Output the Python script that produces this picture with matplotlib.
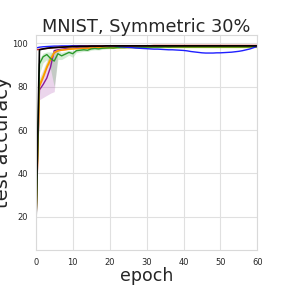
import matplotlib
matplotlib.use("Agg")
import matplotlib.pyplot as plt
import numpy as np
import seaborn as sns

sns.set_style("whitegrid")
plt.rcParams['font.family'] = ['DejaVu Sans']

epochs = list(range(61))

blue = [97.8, 98.2, 98.4, 98.5, 98.6, 98.7, 98.7, 98.8, 98.8, 98.8,
        98.9, 98.9, 98.9, 98.9, 98.9, 98.9, 98.9, 98.9, 98.9, 98.9,
        98.9, 98.8, 98.6, 98.4, 98.3, 98.1, 98.0, 97.8, 97.7, 97.6,
        97.5, 97.4, 97.3, 97.3, 97.2, 97.1, 97.0, 97.0, 96.9, 96.8,
        96.7, 96.5, 96.2, 96.0, 95.8, 95.6, 95.5, 95.5, 95.5, 95.6,
        95.6, 95.7, 95.8, 95.9, 96.1, 96.3, 96.6, 97.0, 97.4, 98.0, 98.6]

red = [97.0, 97.2, 97.4, 97.6, 97.8, 98.0, 98.1, 98.2, 98.3, 98.4,
       98.5, 98.5, 98.6, 98.6, 98.7, 98.7, 98.7, 98.8, 98.8, 98.8,
       98.8, 98.9, 98.9, 98.9, 98.9, 98.9, 98.9, 98.9, 98.9, 98.9,
       98.9, 98.9, 99.0, 99.0, 99.0, 99.0, 99.0, 99.0, 99.0, 99.0,
       99.0, 99.0, 99.0, 99.0, 99.0, 99.0, 99.0, 99.0, 99.0, 99.0,
       99.0, 99.0, 99.0, 99.0, 99.0, 99.0, 99.0, 99.0, 99.0, 99.0, 99.0]

black = [11.0, 97.0, 97.4, 97.7, 97.9, 98.0, 98.1, 98.2, 98.3, 98.4,
         98.5, 98.5, 98.6, 98.6, 98.6, 98.7, 98.7, 98.7, 98.7, 98.8,
         98.8, 98.8, 98.8, 98.8, 98.8, 98.8, 98.8, 98.8, 98.8, 98.8,
         98.8, 98.8, 98.8, 98.8, 98.8, 98.8, 98.8, 98.8, 98.8, 98.8,
         98.8, 98.8, 98.8, 98.8, 98.8, 98.8, 98.8, 98.8, 98.8, 98.8,
         98.8, 98.8, 98.8, 98.8, 98.8, 98.8, 98.8, 98.8, 98.8, 98.8, 98.8]

green = [10.5, 90.5, 93.8, 94.8, 93.0, 91.8, 95.2, 94.2, 95.0, 95.8,
         95.2, 96.6, 96.8, 97.0, 96.8, 97.4, 97.6, 97.4, 97.7, 97.8,
         97.9, 97.8, 98.0, 98.0, 98.0, 98.1, 98.1, 98.1, 98.2, 98.1,
         98.2, 98.2, 98.2, 98.2, 98.2, 98.3, 98.2, 98.3, 98.3, 98.3,
         98.3, 98.3, 98.3, 98.3, 98.3, 98.3, 98.3, 98.3, 98.3, 98.3,
         98.3, 98.3, 98.3, 98.3, 98.3, 98.3, 98.3, 98.3, 98.3, 98.4, 98.4]
green_lo = [10.0, 86.0, 91.0, 92.5, 88.0, 80.0, 92.5, 92.5, 93.5, 94.5,
            93.5, 95.8, 96.0, 96.3, 96.2, 96.8, 97.0, 96.9, 97.2, 97.4,
            97.5, 97.5, 97.7, 97.7, 97.7, 97.8, 97.8, 97.8, 97.9, 97.8,
            97.9, 97.9, 97.9, 97.9, 97.9, 98.0, 97.9, 98.0, 98.0, 98.0,
            98.0, 98.0, 98.0, 98.0, 98.0, 98.0, 98.0, 98.0, 98.0, 98.0,
            98.0, 98.0, 98.0, 98.0, 98.0, 98.0, 98.0, 98.0, 98.0, 98.1, 98.1]
green_hi = [11.0, 93.0, 95.5, 96.0, 96.0, 95.5, 96.5, 95.8, 96.3, 96.8,
            96.5, 97.3, 97.5, 97.6, 97.4, 97.9, 98.1, 97.9, 98.1, 98.2,
            98.3, 98.1, 98.3, 98.3, 98.3, 98.4, 98.4, 98.4, 98.5, 98.4,
            98.5, 98.5, 98.5, 98.5, 98.5, 98.6, 98.5, 98.6, 98.6, 98.6,
            98.6, 98.6, 98.6, 98.6, 98.6, 98.6, 98.6, 98.6, 98.6, 98.6,
            98.6, 98.6, 98.6, 98.6, 98.6, 98.6, 98.6, 98.6, 98.6, 98.7, 98.7]

orange = [12.0, 80.0, 84.0, 88.6, 92.3, 95.5, 96.5, 96.8, 97.0, 97.2,
          97.4, 97.5, 97.6, 97.7, 97.7, 97.8, 97.8, 97.9, 97.9, 98.0,
          98.0, 98.0, 98.1, 98.1, 98.1, 98.1, 98.2, 98.2, 98.2, 98.2,
          98.2, 98.3, 98.3, 98.3, 98.3, 98.3, 98.3, 98.3, 98.3, 98.4,
          98.4, 98.4, 98.4, 98.4, 98.4, 98.4, 98.4, 98.4, 98.4, 98.4,
          98.4, 98.4, 98.4, 98.4, 98.4, 98.4, 98.4, 98.4, 98.4, 98.4, 98.4]
yellow = [12.0, 81.0, 85.0, 89.5, 93.0, 95.8, 96.6, 96.9, 97.1, 97.3,
          97.4, 97.5, 97.6, 97.6, 97.7, 97.7, 97.8, 97.8, 97.8, 97.9,
          97.9, 97.9, 97.9, 98.0, 98.0, 98.0, 98.0, 98.0, 98.0, 98.0,
          98.0, 98.0, 98.1, 98.1, 98.1, 98.1, 98.1, 98.1, 98.1, 98.1,
          98.1, 98.1, 98.1, 98.1, 98.1, 98.1, 98.1, 98.1, 98.1, 98.1,
          98.1, 98.1, 98.1, 98.1, 98.1, 98.1, 98.1, 98.1, 98.1, 98.1, 98.1]

purple = [12.0, 78.5, 81.0, 84.0, 89.0, 96.6, 97.0, 97.3, 97.5, 97.6,
          97.7, 97.8, 97.9, 97.9, 98.0, 98.0, 98.1, 98.1, 98.1, 98.2,
          98.2, 98.2, 98.3, 98.3, 98.3, 98.3, 98.4, 98.4, 98.4, 98.4,
          98.4, 98.4, 98.5, 98.5, 98.5, 98.5, 98.5, 98.5, 98.5, 98.5,
          98.5, 98.5, 98.5, 98.5, 98.5, 98.5, 98.5, 98.5, 98.5, 98.5,
          98.5, 98.5, 98.5, 98.5, 98.5, 98.5, 98.5, 98.5, 98.5, 98.5, 98.5]
purple_lo = [11.0, 74.0, 75.0, 76.0, 77.0, 77.7, 96.0, 96.8, 97.1, 97.3,
             97.4, 97.5, 97.6, 97.6, 97.7, 97.7, 97.8, 97.8, 97.8, 97.9,
             97.9, 97.9, 98.0, 98.0, 98.0, 98.0, 98.1, 98.1, 98.1, 98.1,
             98.1, 98.1, 98.2, 98.2, 98.2, 98.2, 98.2, 98.2, 98.2, 98.2,
             98.2, 98.2, 98.2, 98.2, 98.2, 98.2, 98.2, 98.2, 98.2, 98.2,
             98.2, 98.2, 98.2, 98.2, 98.2, 98.2, 98.2, 98.2, 98.2, 98.2, 98.2]
purple_hi = [13.0, 84.0, 88.0, 92.0, 95.0, 97.3, 97.6, 97.8, 97.9, 97.9,
             98.0, 98.1, 98.2, 98.2, 98.3, 98.3, 98.4, 98.4, 98.4, 98.5,
             98.5, 98.5, 98.6, 98.6, 98.6, 98.6, 98.7, 98.7, 98.7, 98.7,
             98.7, 98.7, 98.8, 98.8, 98.8, 98.8, 98.8, 98.8, 98.8, 98.8,
             98.8, 98.8, 98.8, 98.8, 98.8, 98.8, 98.8, 98.8, 98.8, 98.8,
             98.8, 98.8, 98.8, 98.8, 98.8, 98.8, 98.8, 98.8, 98.8, 98.8, 98.8]

xticks = [0, 10, 20, 30, 40, 50, 60]
yticks = [20, 40, 60, 80, 100]

fig = plt.figure(figsize=(2.86, 2.86), dpi=100)
ax = fig.add_axes([0.125, 0.126, 0.775, 0.753])

ax.fill_between(epochs, purple_lo, purple_hi, color='#9b30a0', alpha=0.2, lw=0)
ax.fill_between(epochs, green_lo, green_hi, color='#2ca02c', alpha=0.2, lw=0)

ax.plot(epochs, purple, color='#8b1a9b', lw=1.0)
ax.plot(epochs, yellow, color='#e8d000', lw=1.0)
ax.plot(epochs, orange, color='#ff8c00', lw=1.0)
ax.plot(epochs, green, color='#2a9a2a', lw=1.0)
ax.plot(epochs, blue, color='#1f1fff', lw=1.0)
ax.plot(epochs, red, color='#e0201a', lw=1.0)
ax.plot(epochs, black, color='black', lw=1.2)

ax.set_xlim(0, 60)
ax.set_ylim(4.7, 104)
ax.set_xticks(xticks)
ax.set_yticks(yticks)
ax.tick_params(labelsize=6, colors='.15', pad=2)
ax.set_title("MNIST, Symmetric 30%", fontsize=12.8, color='.15', pad=2)
ax.set_xlabel("epoch", fontsize=12.5, color='.15', labelpad=0)
ax.set_ylabel("test accuracy", fontsize=14, color='.15', labelpad=0.5)
for s in ax.spines.values():
    s.set_color('.85')
ax.grid(color='.88', lw=0.8)

fig.savefig("out.png", dpi=100)
